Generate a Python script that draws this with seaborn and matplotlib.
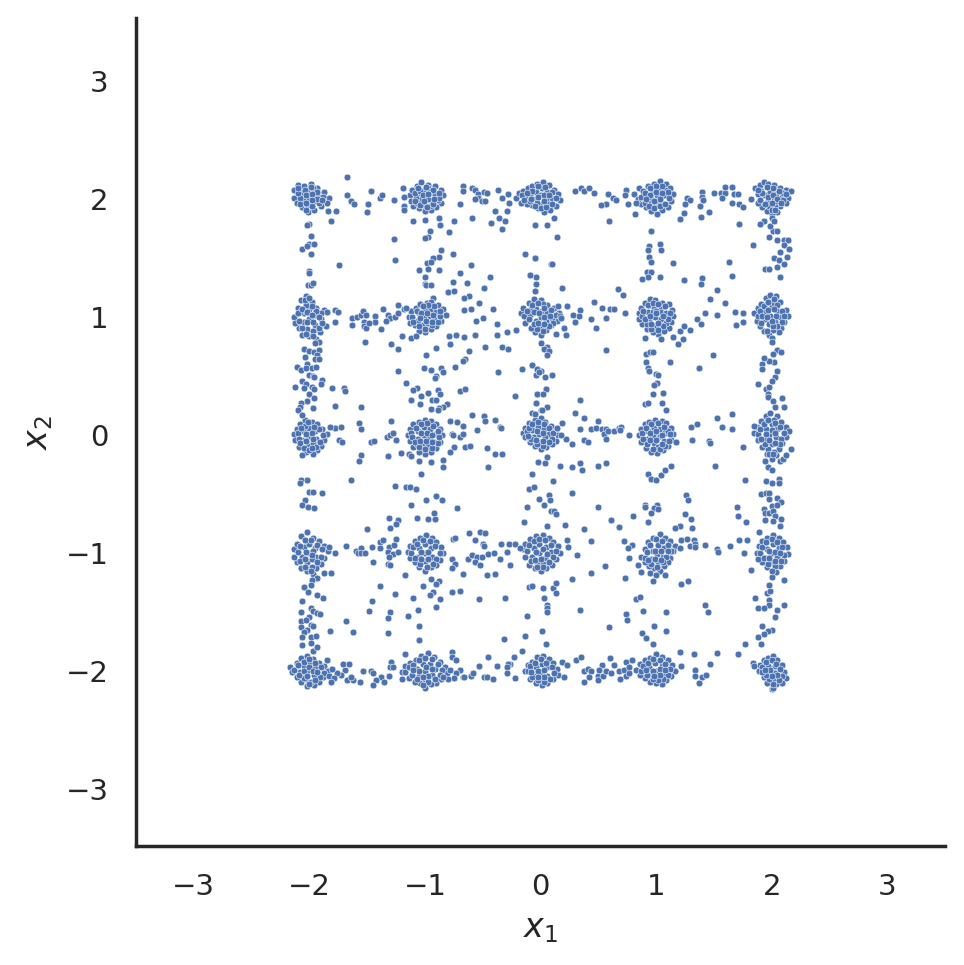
import pandas as pd
import matplotlib.pyplot as plt
import seaborn as sns

# Points, (x1, x2). Dense groups first, one list per row
blobs_top = [
    (-2.13,2.08),(-2.10,2.12),(-2.05,2.11),(-1.99,2.13),(-1.93,2.09),(-1.87,2.06),(-1.83,2.01),(-2.13,2.01),(-2.11,1.97),(-2.06,1.93),
    (-2.01,1.89),(-1.96,1.91),(-1.90,1.94),(-1.85,1.97),(-2.07,2.05),(-2.02,2.07),(-1.96,2.04),(-1.91,2.02),(-2.05,1.99),(-2.00,2.01),
    (-1.95,1.98),(-2.02,1.95),(-1.97,2.09),(-2.08,2.01),
    (-1.13,2.03),(-1.11,2.08),(-1.07,2.11),(-1.03,2.14),(-0.97,2.12),(-0.91,2.11),(-0.86,2.08),(-0.84,2.03),(-0.86,1.97),(-0.90,1.93),
    (-0.95,1.91),(-1.00,1.90),(-1.05,1.92),(-1.10,1.94),(-1.12,1.98),(-1.06,2.05),(-1.01,2.08),(-0.96,2.06),(-0.91,2.03),(-1.04,2.00),
    (-0.99,2.02),(-0.94,1.99),(-1.07,1.97),(-1.01,1.95),(-0.96,1.94),(-0.89,1.99),(-0.97,2.09),(-1.08,2.01),
    (-0.21,2.01),(-0.19,2.05),(-0.15,2.07),(-0.11,2.09),(-0.07,2.11),(-0.03,2.13),(0.02,2.14),(0.07,2.12),(0.12,2.08),(0.15,2.04),
    (0.17,1.99),(0.13,1.94),(0.08,1.91),(0.03,1.89),(-0.02,1.92),(-0.07,1.95),(-0.12,1.96),(-0.17,1.97),(-0.09,2.03),(-0.04,2.06),
    (0.01,2.09),(0.06,2.06),(0.10,2.01),(-0.05,2.00),(0.00,2.03),(0.05,2.00),(0.01,1.96),(-0.03,1.97),(0.07,1.96),(-0.13,2.01),
    (0.81,2.04),(0.85,2.09),(0.89,2.07),(0.93,2.11),(0.98,2.13),(1.03,2.15),(1.09,2.13),(1.12,2.09),(1.15,2.04),(1.13,1.98),
    (1.10,1.93),(1.05,1.91),(1.01,1.87),(0.96,1.90),(0.91,1.93),(0.87,1.96),(0.84,2.00),(0.92,2.03),(0.97,2.07),(1.03,2.09),
    (1.07,2.03),(0.96,2.00),(1.01,2.03),(1.05,1.97),(0.99,1.95),(0.93,1.97),(1.08,2.08),(1.01,1.98),
    (1.82,2.00),(1.86,2.09),(1.90,2.12),(1.93,2.14),(1.97,2.13),(2.02,2.12),(2.07,2.09),(2.12,2.08),(2.17,2.07),(2.14,2.01),
    (2.12,1.97),(2.07,1.94),(2.05,1.89),(2.00,1.87),(1.96,1.90),(1.92,1.93),(1.88,1.97),(1.94,2.03),(1.99,2.06),(2.04,2.04),
    (2.08,2.01),(1.97,1.98),(2.02,2.00),(2.03,1.95),(1.91,2.07),(2.10,2.05),(1.98,1.94),(2.00,1.84),
]
blobs_upper = [
    (-2.13,1.00),(-2.10,1.08),(-2.07,1.14),(-2.03,1.18),(-1.98,1.13),(-1.94,1.08),(-1.87,1.06),(-1.85,1.04),(-1.90,0.98),(-1.86,0.92),
    (-1.91,0.87),(-1.94,0.81),(-2.00,0.84),(-2.06,0.85),(-2.09,0.91),(-2.12,0.95),(-2.05,1.03),(-2.00,1.07),(-1.95,1.02),(-2.05,0.96),
    (-2.00,0.98),(-1.95,0.93),(-2.02,0.90),(-2.03,1.10),(-1.97,0.88),(-2.08,1.04),
    (-1.14,1.00),(-1.12,1.05),(-1.08,1.08),(-1.04,1.11),(-0.98,1.12),(-0.93,1.16),(-0.89,1.10),(-0.84,1.07),(-0.82,1.02),(-0.86,0.97),
    (-0.90,0.92),(-0.95,0.90),(-1.00,0.87),(-1.05,0.88),(-1.09,0.93),(-1.13,0.95),(-1.05,1.03),(-1.00,1.06),(-0.95,1.07),(-0.90,1.04),
    (-1.06,0.97),(-1.01,1.00),(-0.96,1.01),(-0.92,0.98),(-1.02,0.93),(-0.97,0.95),(-0.95,1.13),
    (-0.17,1.03),(-0.15,1.08),(-0.10,1.12),(-0.06,1.15),(0.00,1.14),(0.06,1.10),(0.12,1.08),(0.16,1.03),(0.14,0.97),(0.09,0.93),
    (0.05,0.89),(0.00,0.85),(-0.05,0.87),(-0.08,0.91),(-0.13,0.95),(-0.09,1.02),(-0.04,1.07),(0.01,1.05),(0.06,1.03),(-0.04,0.97),
    (0.00,1.00),(0.05,0.97),(0.00,0.92),(-0.08,1.07),(0.10,0.99),(0.02,1.11),
    (0.85,1.03),(0.87,1.08),(0.90,1.12),(0.95,1.15),(0.99,1.14),(1.05,1.12),(1.11,1.11),(1.14,1.06),(1.15,1.01),(1.13,0.96),
    (1.11,0.91),(1.07,0.88),(1.02,0.86),(0.97,0.87),(0.92,0.90),(0.88,0.94),(0.85,0.98),(0.93,1.04),(0.98,1.08),(1.04,1.07),
    (1.09,1.03),(0.94,0.97),(0.99,1.00),(1.04,0.98),(1.09,0.95),(1.00,0.92),(1.03,1.04),(0.97,1.04),
    (1.85,1.03),(1.88,1.08),(1.91,1.11),(1.95,1.16),(1.99,1.19),(2.04,1.18),(2.07,1.13),(2.12,1.06),(2.14,1.01),(2.11,0.96),
    (2.08,0.91),(2.06,0.87),(2.01,0.89),(1.98,0.85),(1.93,0.88),(1.90,0.92),(1.87,0.97),(1.95,1.04),(2.00,1.09),(2.05,1.05),
    (2.07,1.00),(1.94,0.98),(1.99,1.01),(2.03,0.96),(1.98,0.94),(2.02,1.12),
]
blobs_middle = [
    (-2.13,0.01),(-2.11,0.05),(-2.08,0.09),(-2.04,0.13),(-1.98,0.11),(-1.93,0.09),(-1.89,0.05),(-1.85,0.01),(-1.87,-0.04),(-1.90,-0.09),
    (-1.93,-0.13),(-1.97,-0.16),(-2.03,-0.14),(-2.06,-0.17),(-2.09,-0.10),(-2.12,-0.04),(-2.05,0.03),(-2.00,0.06),(-1.95,0.03),(-2.06,-0.04),
    (-2.00,-0.01),(-1.94,-0.03),(-2.01,-0.09),(-2.04,0.08),(-1.97,-0.07),
    (-1.15,0.00),(-1.13,0.05),(-1.10,0.09),(-1.05,0.11),(-1.00,0.13),(-0.95,0.12),(-0.90,0.09),(-0.87,0.05),(-0.85,0.00),(-0.87,-0.06),
    (-0.90,-0.11),(-0.95,-0.14),(-1.00,-0.16),(-1.05,-0.14),(-1.10,-0.10),(-1.13,-0.05),(-1.06,0.03),(-1.01,0.07),(-0.96,0.05),(-0.91,0.01),
    (-1.06,-0.03),(-1.01,0.00),(-0.96,-0.02),(-0.92,-0.06),(-1.02,-0.07),(-0.97,-0.09),(-1.07,-0.08),
    (-0.15,0.02),(-0.13,0.06),(-0.10,0.10),(-0.05,0.13),(0.00,0.14),(0.04,0.11),(0.09,0.08),(0.13,0.04),(0.15,0.00),(0.13,-0.05),
    (0.10,-0.08),(0.05,-0.10),(0.00,-0.12),(-0.05,-0.09),(-0.09,-0.06),(-0.13,-0.02),(-0.07,0.04),(-0.02,0.07),(0.03,0.05),(0.07,0.01),
    (-0.06,-0.02),(-0.01,0.01),(0.04,-0.02),(0.00,-0.06),
    (0.85,0.00),(0.87,0.05),(0.90,0.09),(0.94,0.11),(0.99,0.13),(1.05,0.12),(1.09,0.10),(1.13,0.06),(1.15,0.01),(1.13,-0.04),
    (1.10,-0.09),(1.06,-0.13),(1.01,-0.15),(0.96,-0.14),(0.91,-0.11),(0.87,-0.06),(0.93,0.03),(0.98,0.06),(1.03,0.05),(1.08,0.02),
    (0.92,-0.03),(0.97,0.00),(1.03,-0.01),(1.07,-0.05),(0.98,-0.07),(1.02,-0.10),(1.10,0.03),
    (1.85,0.02),(1.87,0.07),(1.91,0.12),(1.95,0.16),(1.99,0.19),(2.05,0.16),(2.08,0.11),(2.12,0.07),(2.15,0.03),(2.12,-0.02),
    (2.09,-0.07),(2.06,-0.12),(2.04,-0.17),(2.00,-0.20),(1.96,-0.16),(1.92,-0.10),(1.88,-0.04),(1.95,0.05),(2.00,0.09),(2.05,0.05),
    (1.93,-0.03),(1.98,0.00),(2.04,-0.02),(2.00,-0.08),(1.97,-0.12),(2.02,0.13),
]
blobs_lower = [
    (-2.13,-0.97),(-2.11,-0.92),(-2.07,-0.86),(-2.02,-0.82),(-1.97,-0.87),(-1.92,-0.90),(-1.87,-0.94),(-1.84,-0.98),(-1.87,-1.04),(-1.90,-1.09),
    (-1.94,-1.13),(-1.97,-1.18),(-2.02,-1.15),(-2.07,-1.13),(-2.11,-1.08),(-2.13,-1.03),(-2.05,-0.95),(-2.00,-0.92),(-1.95,-0.96),(-2.06,-1.03),
    (-2.00,-1.00),(-1.94,-1.03),(-2.02,-1.08),(-1.98,-1.05),
    (-1.15,-0.99),(-1.13,-0.94),(-1.09,-0.90),(-1.04,-0.87),(-0.99,-0.85),(-0.94,-0.87),(-0.90,-0.91),(-0.86,-0.95),(-0.84,-1.00),(-0.87,-1.06),
    (-0.90,-1.10),(-0.95,-1.12),(-1.00,-1.15),(-1.05,-1.12),(-1.09,-1.08),(-1.13,-1.04),(-1.05,-0.96),(-1.00,-0.92),(-0.95,-0.96),(-1.06,-1.03),
    (-1.00,-1.00),(-0.94,-1.03),(-1.00,-1.07),
    (-0.15,-0.97),(-0.13,-0.92),(-0.09,-0.88),(-0.04,-0.86),(0.02,-0.85),(0.07,-0.87),(0.11,-0.91),(0.15,-0.94),(0.17,-1.00),(0.13,-1.05),
    (0.10,-1.10),(0.05,-1.13),(0.00,-1.15),(-0.05,-1.13),(-0.10,-1.10),(-0.13,-1.03),(-0.06,-0.96),(-0.01,-0.92),(0.05,-0.95),(0.09,-0.99),
    (-0.07,-1.03),(-0.01,-1.00),(0.04,-1.04),(-0.03,-1.08),(0.02,-1.09),
    (0.87,-1.03),(0.90,-0.97),(0.93,-0.91),(0.97,-0.87),(1.03,-0.84),(1.08,-0.87),(1.12,-0.90),(1.16,-0.94),(1.15,-0.98),(1.12,-1.04),
    (1.10,-1.08),(1.07,-1.11),(1.03,-1.15),(0.98,-1.13),(0.94,-1.11),(0.90,-1.08),(0.97,-0.98),(1.02,-0.93),(1.07,-0.96),(0.96,-1.05),
    (1.01,-1.01),(1.06,-1.03),(1.02,-1.08),
    (1.87,-1.00),(1.89,-0.94),(1.92,-0.90),(1.96,-0.87),(2.01,-0.85),(2.06,-0.87),(2.10,-0.91),(2.13,-0.95),(2.14,-1.01),(2.11,-1.07),
    (2.07,-1.11),(2.04,-1.16),(2.00,-1.20),(1.96,-1.12),(1.92,-1.08),(1.88,-1.05),(1.96,-0.97),(2.01,-0.92),(2.06,-0.96),(1.95,-1.04),
    (2.00,-1.00),(2.05,-1.03),(2.01,-1.08),
]
blobs_bottom = [
    (-2.17,-1.97),(-2.15,-2.01),(-2.11,-1.93),(-2.07,-1.89),(-2.02,-1.87),(-1.97,-1.90),(-1.92,-1.93),(-1.87,-1.96),(-1.84,-2.00),(-1.88,-2.05),
    (-1.92,-2.09),(-1.96,-2.12),(-2.02,-2.13),(-2.07,-2.09),(-2.11,-2.05),(-2.05,-1.96),(-2.00,-1.93),(-1.95,-1.97),(-2.08,-2.01),(-2.02,-2.00),
    (-1.96,-2.03),(-2.03,-2.07),(-1.99,-2.09),
    (-1.20,-2.01),(-1.17,-1.96),(-1.13,-1.93),(-1.08,-1.91),(-1.03,-1.87),(-0.97,-1.85),(-0.92,-1.88),(-0.87,-1.92),(-0.83,-1.97),(-0.81,-2.02),
    (-0.86,-2.07),(-0.90,-2.10),(-0.95,-2.11),(-1.00,-2.14),(-1.04,-2.10),(-1.09,-2.09),(-1.14,-2.06),(-1.07,-1.98),(-1.02,-1.94),(-0.96,-1.94),
    (-0.91,-1.98),(-1.05,-2.04),(-1.00,-2.00),(-0.94,-2.03),(-1.00,-2.07),
    (-0.13,-2.00),(-0.11,-1.95),(-0.07,-1.92),(-0.03,-1.88),(0.02,-1.87),(0.07,-1.90),(0.11,-1.93),(0.14,-1.98),(0.15,-2.03),(0.11,-2.07),
    (0.06,-2.10),(0.01,-2.12),(-0.04,-2.10),(-0.09,-2.07),(-0.04,-1.97),(0.01,-1.94),(0.06,-1.97),(-0.05,-2.04),(0.00,-2.01),(0.06,-2.04),
    (0.83,-1.99),(0.86,-1.94),(0.90,-1.91),(0.95,-1.89),(1.00,-1.86),(1.05,-1.88),(1.10,-1.91),(1.14,-1.95),(1.16,-2.00),(1.13,-2.04),
    (1.09,-2.08),(1.05,-2.11),(1.00,-2.10),(0.95,-2.09),(0.90,-2.06),(0.86,-2.03),(0.94,-1.97),(0.99,-1.93),(1.05,-1.96),(0.95,-2.03),
    (1.00,-2.00),(1.06,-2.03),(1.00,-2.06),
    (1.90,-1.95),(1.93,-1.91),(1.97,-1.89),(2.01,-1.87),(2.05,-1.91),(2.09,-1.95),(2.11,-2.01),(2.12,-2.06),(2.09,-2.10),(2.04,-2.11),
    (2.00,-2.15),(1.96,-2.10),(1.93,-2.05),(1.89,-2.00),(1.97,-1.96),(2.03,-1.96),(1.97,-2.03),(2.03,-2.02),(2.01,-2.07),(2.01,-2.14),
]
# Second pass over the dense groups, where the markers overlap to a solid patch
fill_top = [
    (-2.10,2.05),(-2.08,1.96),(-2.03,1.91),(-1.98,1.94),(-1.92,1.97),(-1.88,2.02),(-1.93,2.06),(-1.99,2.10),(-2.04,2.08),(-2.03,2.03),(-1.98,2.04),(-1.93,2.00),(-2.03,1.97),(-1.98,1.99),(-2.10,2.09),(-1.89,1.99),
    (-1.09,2.05),(-1.09,1.98),(-1.04,1.95),(-0.98,1.93),(-0.93,1.96),(-0.88,2.01),(-0.93,2.08),(-0.99,2.10),(-1.04,2.07),(-1.02,2.03),(-0.97,2.00),(-0.97,2.04),(-1.01,1.98),(-1.06,2.09),(-0.88,2.05),(-0.92,2.00),
    (-0.16,2.03),(-0.14,1.99),(-0.09,1.98),(-0.05,1.94),(0.00,1.92),(0.05,1.93),(0.10,1.96),(0.13,2.01),(0.10,2.06),(0.04,2.10),(-0.02,2.11),(-0.07,2.07),(-0.02,2.02),(0.03,2.03),(0.03,1.98),(-0.08,2.00),(0.07,2.03),(-0.12,2.05),
    (0.87,2.02),(0.90,1.97),(0.94,1.94),(0.98,1.92),(1.03,1.94),(1.08,1.96),(1.11,2.01),(1.10,2.06),(1.05,2.11),(1.00,2.11),(0.95,2.09),(0.90,2.05),(0.95,2.03),(1.00,2.06),(1.05,2.05),(1.03,2.00),(0.98,1.98),(0.91,2.00),
    (1.88,2.04),(1.90,1.99),(1.94,1.96),(2.00,1.91),(2.04,1.98),(2.10,1.99),(2.12,2.04),(2.06,2.07),(2.01,2.09),(1.96,2.10),(1.92,2.05),(1.97,2.02),(2.01,2.03),(2.05,2.00),(2.00,1.97),(1.88,2.08),(2.03,1.91),(2.08,1.97),
]
fill_upper = [
    (-2.10,1.03),(-2.09,0.97),(-2.06,0.91),(-2.03,0.86),(-1.97,0.84),(-1.92,0.91),(-1.89,0.95),(-1.90,1.03),(-1.94,1.05),(-1.98,1.09),(-2.04,1.14),(-2.06,1.07),(-2.02,1.04),(-1.98,1.02),(-2.02,0.96),(-1.97,0.96),(-2.00,1.16),(-1.92,1.00),
    (-1.11,1.00),(-1.10,0.96),(-1.05,0.92),(-1.00,0.90),(-0.94,0.93),(-0.89,0.96),(-0.87,1.01),(-0.87,1.05),(-0.92,1.09),(-0.97,1.10),(-1.02,1.09),(-1.07,1.05),(-1.03,1.03),(-0.98,1.03),(-0.93,1.02),(-1.04,0.99),(-0.99,0.97),(-0.94,0.96),
    (-0.14,1.01),(-0.12,1.05),(-0.07,1.10),(-0.02,1.12),(0.03,1.08),(0.09,1.06),(0.13,1.02),(0.11,0.95),(0.07,0.92),(0.02,0.88),(-0.03,0.90),(-0.06,0.94),(-0.10,0.98),(-0.06,1.04),(-0.01,1.03),(0.03,1.00),(0.08,1.01),(-0.02,0.95),(0.03,0.94),
    (0.88,1.01),(0.89,1.05),(0.93,1.10),(0.97,1.12),(1.02,1.11),(1.08,1.09),(1.12,1.03),(1.10,0.98),(1.06,0.92),(1.02,0.89),(0.96,0.90),(0.92,0.94),(0.90,0.98),(0.95,1.01),(1.00,1.05),(1.06,1.01),(1.02,0.95),(0.96,0.94),(1.00,1.03),
    (1.88,1.01),(1.90,1.05),(1.93,1.09),(1.97,1.13),(2.02,1.15),(2.05,1.10),(2.09,1.05),(2.11,1.01),(2.09,0.96),(2.05,0.92),(2.01,0.92),(1.96,0.88),(1.91,0.95),(1.92,1.01),(1.97,1.06),(2.02,1.07),(2.04,1.01),(2.00,0.97),(1.96,1.00),
]
fill_middle = [
    (-2.10,0.02),(-2.09,-0.03),(-2.08,-0.07),(-2.05,-0.11),(-2.00,-0.13),(-1.94,-0.10),(-1.91,-0.06),(-1.88,0.00),(-1.92,0.05),(-1.96,0.07),(-2.01,0.11),(-2.07,0.06),(-2.03,0.01),(-1.98,0.02),(-2.03,-0.05),(-1.97,-0.03),(-1.98,-0.11),
    (-1.12,0.02),(-1.11,-0.02),(-1.09,-0.06),(-1.05,-0.10),(-1.00,-0.12),(-0.94,-0.11),(-0.89,-0.07),(-0.88,-0.02),(-0.89,0.03),(-0.93,0.08),(-0.98,0.10),(-1.03,0.09),(-1.08,0.06),(-1.03,0.02),(-0.98,0.02),(-0.94,0.00),(-1.04,-0.05),(-0.99,-0.05),(-0.94,-0.06),
    (-0.12,0.03),(-0.10,0.06),(-0.07,0.09),(-0.02,0.11),(0.03,0.09),(0.07,0.06),(0.11,0.02),(0.10,-0.03),(0.07,-0.06),(0.02,-0.09),(-0.03,-0.08),(-0.08,-0.03),(-0.03,0.03),(0.02,0.02),(-0.04,-0.04),(0.02,-0.05),(-0.11,-0.01),
    (0.88,0.02),(0.89,-0.03),(0.92,-0.08),(0.97,-0.12),(1.03,-0.12),(1.08,-0.09),(1.11,-0.05),(1.12,0.01),(1.07,0.07),(1.02,0.10),(0.96,0.09),(0.91,0.06),(0.95,0.02),(1.00,0.03),(1.05,0.00),(0.95,-0.04),(1.00,-0.04),(1.05,-0.08),
    (1.88,0.01),(1.90,0.05),(1.93,0.09),(1.97,0.13),(2.03,0.10),(2.07,0.07),(2.11,0.02),(2.08,-0.03),(2.07,-0.08),(2.02,-0.14),(1.98,-0.16),(1.94,-0.08),(1.91,-0.03),(1.95,0.01),(2.00,0.04),(2.03,0.02),(1.98,-0.04),(2.03,-0.07),(2.01,-0.16),
]
fill_lower = [
    (-2.10,-0.99),(-2.08,-0.94),(-2.04,-0.89),(-1.99,-0.89),(-1.93,-0.93),(-1.89,-0.97),(-1.90,-1.03),(-1.93,-1.08),(-1.98,-1.12),(-2.04,-1.12),(-2.08,-1.07),(-2.03,-0.99),(-1.97,-0.98),(-2.04,-1.05),(-1.98,-1.02),(-1.99,-1.15),
    (-1.12,-1.00),(-1.10,-0.95),(-1.07,-0.92),(-1.02,-0.89),(-0.96,-0.90),(-0.91,-0.94),(-0.87,-1.00),(-0.90,-1.05),(-0.93,-1.09),(-0.98,-1.12),(-1.04,-1.09),(-1.09,-1.04),(-1.03,-0.99),(-0.97,-0.99),(-1.03,-1.05),(-0.97,-1.05),
    (-0.12,-0.98),(-0.10,-0.93),(-0.06,-0.90),(-0.01,-0.88),(0.04,-0.89),(0.09,-0.93),(0.13,-0.98),(0.11,-1.03),(0.07,-1.08),(0.02,-1.12),(-0.03,-1.12),(-0.08,-1.07),(-0.04,-0.99),(0.02,-0.97),(0.06,-1.01),(-0.05,-1.06),(0.00,-1.05),
    (0.90,-1.04),(0.92,-0.99),(0.95,-0.93),(1.00,-0.88),(1.05,-0.90),(1.10,-0.93),(1.13,-0.98),(1.09,-1.03),(1.06,-1.08),(1.01,-1.12),(0.96,-1.09),(0.93,-1.06),(0.99,-0.98),(1.04,-0.98),(0.99,-1.05),(1.04,-1.06),(1.10,-0.98),
    (1.90,-1.00),(1.92,-0.95),(1.95,-0.91),(2.00,-0.88),(2.05,-0.91),(2.09,-0.95),(2.11,-1.02),(2.08,-1.07),(2.03,-1.11),(2.00,-1.15),(1.97,-1.09),(1.93,-1.04),(1.98,-0.98),(2.03,-0.99),(1.98,-1.04),(2.03,-1.07),(2.07,-1.00),
]
fill_bottom = [
    (-2.13,-1.99),(-2.10,-1.95),(-2.05,-1.92),(-2.00,-1.90),(-1.95,-1.93),(-1.90,-1.97),(-1.87,-2.02),(-1.91,-2.05),(-1.95,-2.08),(-2.00,-2.11),(-2.05,-2.06),(-2.09,-2.03),(-2.05,-2.00),(-2.00,-1.97),(-1.97,-2.00),(-2.02,-2.04),(-1.93,-2.01),
    (-1.17,-2.01),(-1.14,-1.97),(-1.10,-1.95),(-1.05,-1.91),(-1.00,-1.89),(-0.94,-1.90),(-0.89,-1.94),(-0.85,-1.99),(-0.87,-2.03),(-0.91,-2.07),(-0.97,-2.09),(-1.02,-2.12),(-1.07,-2.07),(-1.11,-2.03),(-1.05,-2.00),(-0.99,-1.97),(-0.94,-1.98),(-0.97,-2.04),(-1.02,-2.05),(-1.10,-1.99),
    (-0.11,-2.00),(-0.09,-1.96),(-0.05,-1.93),(0.00,-1.90),(0.05,-1.93),(0.10,-1.97),(0.12,-2.02),(0.08,-2.07),(0.03,-2.09),(-0.02,-2.08),(-0.07,-2.05),(-0.08,-2.01),(-0.02,-2.00),(0.03,-1.99),(0.03,-2.05),(-0.02,-2.05),
    (0.87,-2.00),(0.89,-1.96),(0.93,-1.93),(0.97,-1.90),(1.03,-1.91),(1.08,-1.94),(1.12,-1.98),(1.10,-2.03),(1.06,-2.07),(1.02,-2.08),(0.97,-2.07),(0.92,-2.03),(0.91,-1.99),(0.97,-2.00),(1.03,-1.98),(1.03,-2.03),(0.98,-2.04),(1.08,-1.99),
    (1.92,-1.97),(1.95,-1.92),(2.00,-1.91),(2.04,-1.94),(2.07,-1.98),(2.09,-2.04),(2.06,-2.08),(2.01,-2.11),(1.98,-2.07),(1.95,-2.03),(1.92,-2.01),(1.99,-1.99),(2.05,-2.03),(2.00,-2.04),(1.94,-1.99),
]

# Loose points between the groups, one list per quadrant of the picture
upper_left = [
    (-1.67,2.19),(-1.47,2.07),(-1.67,2.03),(-1.64,1.98),(-1.61,1.96),(-1.49,1.96),(-1.50,1.89),(-1.39,2.01),(-1.37,2.03),(-1.27,1.99),
    (-1.81,1.81),(-1.77,1.90),(-1.84,1.90),(-2.00,1.79),(-2.02,1.78),(-1.99,1.69),(-2.00,1.62),(-1.96,1.62),(-2.06,1.58),(-2.02,1.60),
    (-1.99,1.53),(-1.74,1.44),(-1.27,1.66),(-1.26,1.48),(-2.00,1.39),(-2.00,1.37),(-2.01,1.27),(-1.99,1.27),(-1.97,1.29),(-1.19,2.09),
    (-1.18,2.02),(-1.18,1.94),(-1.18,1.91),(-1.10,1.81),(-1.00,1.82),(-0.88,1.84),(-0.87,1.78),(-0.75,1.81),(-0.96,1.73),(-0.97,1.68),
    (-1.00,1.67),(-0.79,1.72),(-0.70,1.96),(-0.67,2.11),(-0.67,2.07),(-0.59,2.09),(-0.57,2.08),(-0.59,1.84),(-0.54,2.04),(-0.54,2.01),
    (-0.49,2.06),(-0.46,2.05),(-0.57,2.00),(-0.51,1.98),(-0.48,1.98),(-0.37,2.08),(-0.33,2.01),(-0.28,2.04),(-0.27,1.97),(-0.39,1.90),
    (-0.29,1.90),(-0.36,1.84),(-0.43,1.80),(-0.31,1.81),(-0.33,1.75),(-0.05,1.78),(-0.86,1.57),(-0.76,1.53),(-0.88,1.51),(-0.93,1.50),
    (-0.98,1.46),(-0.95,1.47),(-1.05,1.40),(-0.97,1.41),(-0.88,1.40),(-0.60,1.44),(-0.70,1.37),(-1.00,1.34),(-0.44,1.34),(-0.13,1.53),
    (-0.05,1.50),(-0.09,1.36),(-0.04,1.34),(0.09,1.45),(-1.00,1.28),(-0.99,1.27),(-0.95,1.27),(-0.76,1.30),(-0.64,1.29),(-0.49,1.25),
    (-0.80,1.21),(-0.75,1.22),(-0.62,1.18),(-0.66,1.16),(-0.53,1.12),(-0.41,1.07),(-0.66,1.06),(-0.60,1.07),(-0.50,0.99),(-0.56,0.97),
    (-0.38,0.94),(-0.38,0.85),(-0.29,0.87),(-0.21,0.89),(-0.57,0.85),(-0.73,0.85),(-0.79,0.84),(-0.66,0.83),(-0.78,0.77),(-0.48,0.75),
    (-0.33,0.75),(-0.28,0.73),(-0.90,0.74),(-0.99,0.68),(-0.62,0.71),(-0.65,0.64),(-0.67,0.63),(-0.74,0.58),(-1.01,0.57),(-0.95,0.55),
    (-0.86,0.57),(-0.84,0.53),(-0.90,0.50),(-0.91,0.48),(-0.37,0.53),(-0.16,0.56),(-0.07,0.59),(-0.03,0.56),(0.00,0.54),(-0.04,0.51),
    (0.04,0.49),(-1.23,0.54),(-1.16,0.44),(-1.07,0.40),(-1.10,0.38),(-1.03,0.33),(-0.97,0.36),(-0.89,0.38),(-0.87,0.35),(-0.70,0.37),
    (-0.65,0.39),(-1.12,0.30),(-0.94,0.30),(-0.90,0.30),(-1.04,0.26),(-0.22,0.33),(-0.03,0.35),(0.05,0.39),(-0.04,0.27),(0.00,0.21),
    (-0.07,0.19),(-0.81,0.26),(-0.84,0.24),(-0.88,0.23),(-0.89,0.21),(-0.95,0.22),(-0.59,0.17),(-0.49,0.16),(-0.48,0.12),(-0.39,0.13),
    (-0.78,0.12),(-0.72,0.11),(-0.67,0.08),(-0.55,0.04),(-0.35,0.07),(-0.34,0.06),(-0.77,0.01),(-0.76,0.00),(-0.70,-0.02),(-0.67,0.01),
    (-0.75,-0.10),(-0.65,-0.10),(-0.61,-0.09),(-2.05,0.73),(-1.92,0.79),(-1.95,0.78),(-2.00,0.71),(-1.96,0.70),(-1.92,0.72),(-2.04,0.66),
    (-1.93,0.68),(-1.95,0.64),(-1.92,0.64),(-2.11,0.58),(-2.02,0.60),(-2.07,0.55),(-2.03,0.57),(-1.98,0.57),(-1.94,0.58),(-2.00,0.51),
    (-1.97,0.50),(-1.89,0.47),(-1.96,0.49),(-2.06,0.46),(-2.12,0.41),(-2.03,0.43),(-2.05,0.40),(-1.98,0.41),(-1.96,0.39),(-1.90,0.43),
    (-2.00,0.35),(-1.96,0.31),(-2.02,0.29),(-2.07,0.27),(-2.08,0.24),(-2.10,0.21),(-1.97,0.23),(-2.06,0.17),(-1.80,0.40),(-1.70,0.40),
    (-1.69,0.37),(-1.78,0.25),(-1.55,0.24),(-1.57,0.10),(-1.55,0.05),(-1.29,0.12),(-1.78,0.06),(-1.73,0.07),(-1.82,0.07),(-1.74,-0.04),
    (-1.72,-0.06),(-1.47,-0.06),(-1.44,-0.05),(-1.33,-0.02),(-1.30,0.00),(-1.28,0.02),(-1.25,-0.04),(-1.63,0.99),(-1.63,0.93),(-1.59,1.00),
    (-1.55,1.02),(-1.54,1.05),(-1.51,1.02),(-1.43,1.01),(-1.43,0.96),(-1.53,0.96),(-1.53,0.92),(-1.51,0.91),(-1.48,0.95),(-1.38,0.90),
    (-1.36,1.07),(-1.32,1.02),(-1.30,0.99),(-1.34,0.97),(-1.26,1.00),(-1.23,1.03),(-1.23,1.10),(-1.18,1.07),(-1.16,1.08),(-1.20,0.84),
    (-1.12,0.82),(-1.08,0.84),(-1.29,0.77),(-1.23,0.73),(-1.52,0.79),(-1.78,1.06),(-1.75,1.04),(-1.78,0.96),
]
upper_right = [
    (0.30,2.07),(0.35,2.09),(0.38,2.07),(0.42,2.09),(0.46,2.05),(0.58,2.04),(0.63,2.01),(0.65,1.99),(0.57,1.96),(0.52,1.95),
    (0.59,1.81),(0.74,2.08),(0.73,2.03),(0.76,1.96),(0.82,1.87),(0.83,1.97),(0.96,1.73),(1.03,1.62),(1.04,1.57),(0.94,1.60),
    (0.93,1.57),(0.94,1.51),(0.96,1.47),(1.15,1.46),(0.92,1.38),(0.96,1.38),(0.93,1.34),(0.88,1.32),(1.03,1.34),(1.24,1.31),
    (1.40,1.33),(1.39,1.28),(1.27,2.01),(1.29,1.99),(1.25,1.96),(1.24,1.88),(1.21,1.83),(1.38,1.94),(1.39,1.85),(1.46,1.89),
    (1.40,2.06),(1.40,2.02),(1.41,1.99),(1.50,2.05),(1.56,2.05),(1.60,2.05),(1.60,2.10),(1.66,2.10),(1.57,2.01),(1.67,2.04),
    (1.71,2.04),(1.66,1.97),(1.72,1.96),(1.75,1.93),(1.72,1.79),(1.84,1.61),(1.63,1.47),(1.66,1.35),(1.94,1.41),(1.98,1.41),
    (2.05,1.42),(2.07,1.34),(2.02,1.50),(2.06,1.48),(2.11,1.45),(2.13,1.51),(2.07,1.55),(2.05,1.65),(2.11,1.65),(2.14,1.65),
    (2.11,1.61),(2.15,1.58),(1.98,1.68),(2.01,1.73),(2.05,1.73),(1.99,1.77),(2.02,1.81),(1.93,1.81),(1.90,1.79),(0.06,1.78),
    (0.14,1.68),(0.12,1.84),(-0.05,1.50),(0.10,1.45),(-0.09,1.36),(-0.04,1.28),(-0.05,1.22),(0.19,1.25),(0.67,1.24),(0.71,1.19),
    (0.46,1.13),(0.53,1.08),(0.60,1.07),(0.64,1.07),(0.57,0.99),(0.73,1.03),(0.48,0.91),(0.44,0.98),(0.34,1.06),(0.33,1.01),
    (0.28,1.02),(0.30,0.96),(0.23,1.09),(0.15,1.09),(0.17,1.01),(0.18,0.99),(0.20,0.91),(0.22,0.85),(0.13,0.86),(0.00,0.78),
    (0.06,0.75),(0.03,0.73),(0.07,0.71),(0.06,0.68),(0.57,0.72),(-0.07,0.59),(-0.03,0.56),(-0.01,0.53),(0.10,0.51),(0.05,0.39),
    (-0.03,0.35),(0.02,0.35),(-0.04,0.27),(0.06,0.24),(0.01,0.21),(-0.05,0.18),(0.34,0.30),(0.30,0.19),(0.38,0.14),(0.50,0.12),
    (0.34,0.05),(0.44,0.05),(0.48,0.06),(0.53,0.05),(0.57,0.05),(0.55,0.01),(0.58,0.03),(0.64,0.03),(0.68,0.06),(0.70,0.07),
    (0.69,0.04),(0.77,0.00),(0.57,-0.03),(0.38,-0.04),(0.41,-0.06),(0.27,-0.08),(0.22,-0.03),(0.18,0.00),(0.19,0.10),(0.14,0.06),
    (1.06,0.36),(1.05,0.27),(0.97,0.35),(0.90,0.26),(0.93,0.27),(1.09,0.21),(0.91,0.69),(0.95,0.70),(0.97,0.70),(0.91,0.62),
    (0.93,0.57),(0.94,0.54),(1.00,0.52),(1.02,0.51),(1.01,0.44),(0.98,0.42),(1.12,0.62),(1.37,0.57),(1.49,0.68),(0.90,0.82),
    (1.04,0.81),(1.15,0.83),(1.23,0.81),(1.19,0.77),(1.21,0.88),(1.24,0.92),(1.29,0.89),(1.35,0.98),(1.39,0.94),(1.42,1.03),
    (1.53,1.02),(1.47,1.15),(1.53,1.23),(1.60,1.12),(1.68,1.04),(1.75,1.03),(1.69,0.93),(1.75,0.96),(1.88,0.43),(1.95,0.39),
    (1.98,0.41),(1.97,0.35),(1.97,0.32),(2.03,0.49),(2.00,0.46),(2.05,0.54),(2.02,0.62),(1.98,0.63),(1.93,0.65),(1.92,0.60),
    (1.92,0.56),(2.05,0.72),(2.08,0.70),(2.01,0.69),(2.00,0.82),(2.00,0.79),(2.01,0.29),(2.03,0.24),(2.09,0.31),(2.11,0.24),
    (1.53,0.14),(1.66,0.18),(1.57,0.07),(1.66,0.05),(1.30,0.07),(1.35,0.09),(1.85,0.08),(1.31,-0.04),(1.46,-0.05),(1.47,-0.07),
    (1.75,-0.10),(2.17,-0.12),(1.17,-0.06),
]
lower_left = [
    (-1.32,-0.18),(-1.55,-0.17),(-1.57,-0.22),(-1.21,-0.15),(-1.14,-0.16),(-1.12,-0.18),(-1.05,-0.22),(-0.95,-0.23),(-0.84,-0.21),(-0.84,-0.27),
    (-1.03,-0.33),(-0.78,-0.14),(-0.46,-0.11),(-0.39,-0.16),(-0.33,-0.16),(-0.45,-0.27),(-1.64,-0.38),(-1.26,-0.43),(-1.16,-0.44),(-1.13,-0.44),
    (-1.08,-0.46),(-2.02,-0.38),(-2.07,-0.38),(-2.08,-0.41),(-2.00,-0.48),(-1.97,-0.48),(-1.89,-0.49),(-2.04,-0.55),(-2.06,-0.59),(-2.01,-0.61),
    (-1.96,-0.62),(-0.99,-0.55),(-0.90,-0.52),(-0.85,-0.55),(-1.12,-0.59),(-0.72,-0.62),(-0.10,-0.46),(-0.12,-0.61),(-1.31,-0.70),(-1.23,-0.72),
    (-1.25,-0.75),(-1.30,-0.79),(-1.07,-0.70),(-0.97,-0.71),(-0.91,-0.71),(-0.92,-0.66),(-1.50,-0.80),(-0.14,-0.74),(-0.62,-0.83),(-0.52,-0.82),
    (-0.48,-0.83),(-0.57,-0.89),(-0.50,-0.92),(-0.49,-0.94),(-0.76,-0.88),(-0.74,-0.87),(-0.34,-0.92),(-0.27,-0.92),(-0.22,-0.92),(-0.18,-0.96),
    (-0.29,-0.99),(-0.35,-1.05),(-0.26,-1.10),(-0.45,-1.01),(-0.40,-1.00),(-0.63,-1.05),(-0.59,-1.02),(-0.55,-1.03),(-0.51,-1.03),(-0.57,-1.08),
    (-0.52,-1.10),(-0.77,-1.05),(-0.74,-1.09),(-0.77,-1.13),(-0.67,-1.18),(-0.46,-1.19),(-0.39,-1.18),(-1.68,-0.94),(-1.60,-0.98),(-1.58,-1.00),
    (-1.55,-0.96),(-1.55,-1.00),(-1.52,-1.00),(-1.46,-0.95),(-1.39,-0.91),(-1.36,-0.89),(-1.39,-0.96),(-1.45,-1.08),(-1.32,-1.09),(-1.30,-1.10),
    (-1.31,-0.95),(-1.27,-0.93),(-1.25,-0.88),(-1.32,-0.99),(-1.28,-1.01),(-1.31,-1.03),(-1.23,-0.99),(-1.78,-1.00),(-1.83,-0.95),(-1.87,-1.17),
    (-1.81,-1.17),(-1.93,-1.21),(-1.98,-1.23),(-1.99,-1.27),(-2.05,-1.29),(-2.01,-1.33),(-1.93,-1.36),(-1.88,-1.38),(-2.06,-1.41),(-1.17,-1.19),
    (-0.95,-1.22),(-0.88,-1.24),(-0.90,-1.26),(-1.02,-1.28),(-0.93,-1.33),(-0.96,-1.36),(-0.77,-1.33),(-0.70,-1.32),(-0.87,-1.39),(-0.90,-1.46),
    (-1.39,-1.28),(-1.26,-1.35),(-1.10,-1.38),(-1.46,-1.41),(-1.48,-1.49),(-1.30,-1.50),(-1.32,-1.55),(-1.15,-1.53),(-1.06,-1.48),(-1.68,-1.58),
    (-1.62,-1.67),(-1.82,-1.66),(-1.32,-1.68),(-1.05,-1.62),(-1.05,-1.74),(-1.99,-1.47),(-1.97,-1.49),(-2.07,-1.50),(-2.00,-1.54),(-1.93,-1.51),
    (-1.91,-1.52),(-2.07,-1.58),(-2.03,-1.57),(-2.07,-1.63),(-1.99,-1.61),(-1.97,-1.62),(-2.02,-1.65),(-2.05,-1.67),(-2.06,-1.71),(-1.99,-1.71),
    (-1.94,-1.70),(-1.99,-1.76),(-2.06,-1.78),(-1.97,-1.83),(-1.93,-1.80),(-0.53,-1.39),(-0.31,-1.38),(-0.12,-1.53),(-0.07,-1.28),(-0.10,-1.29),
    (-0.13,-1.70),(-0.32,-1.73),(-0.45,-1.88),(-0.38,-1.96),(-0.53,-1.96),(-0.26,-1.94),(-0.23,-1.88),(-0.16,-1.83),(-0.28,-1.94),(-0.29,-1.97),
    (-0.29,-2.02),(-0.22,-2.06),(-0.49,-2.05),(-0.46,-2.05),(-0.41,-2.07),(-0.60,-2.04),(-0.58,-2.02),(-0.67,-2.05),(-0.66,-2.05),(-0.70,-1.99),
    (-0.73,-2.02),(-0.77,-1.84),(-0.77,-1.88),(-0.73,-1.91),(-0.78,-1.99),(-0.75,-2.06),(-0.80,-2.07),(-0.84,-2.05),(-1.17,-1.86),(-1.29,-1.92),
    (-1.30,-1.97),(-1.28,-1.97),(-1.20,-2.07),(-1.31,-2.04),(-1.38,-2.05),(-1.42,-2.08),(-1.35,-2.09),(-1.45,-2.12),(-1.54,-2.00),(-1.47,-2.00),
    (-1.45,-2.02),(-1.56,-2.09),(-1.62,-2.08),(-1.67,-2.08),(-1.64,-2.05),(-1.69,-1.99),(-1.71,-1.94),(-1.66,-1.94),(-1.73,-2.03),(-1.76,-2.02),
    (-1.80,-1.98),(-1.83,-2.04),(-1.79,-2.06),(-1.81,-2.09),(-1.85,-1.91),
]
lower_right = [
    (-0.02,-0.23),(0.04,-0.24),(0.06,-0.19),(0.17,-0.26),(0.27,-0.27),(0.34,-0.24),(0.36,-0.30),(0.50,-0.26),(0.57,-0.24),(-0.07,-0.33),
    (-0.06,-0.44),(0.11,-0.39),(0.27,-0.49),(0.50,-0.61),(-0.01,-0.54),(0.07,-0.51),(0.08,-0.55),(0.03,-0.59),(0.09,-0.64),(0.12,-0.64),
    (0.13,-0.67),(0.61,-0.72),(0.68,-0.78),(0.80,-0.69),(0.93,-0.74),(0.06,-0.77),(0.21,-0.76),(0.38,-0.80),(0.23,-0.89),(0.24,-0.95),
    (0.44,-0.90),(0.32,-1.02),(0.56,-1.11),(0.44,-1.17),(0.27,-1.22),(0.73,-1.21),(0.90,-0.59),(0.90,-0.61),(1.01,-0.59),(0.98,-0.62),
    (1.02,-0.63),(0.96,-0.66),(0.93,-0.33),(0.96,-0.37),(1.00,-0.38),(1.04,-0.34),(1.08,-0.30),(1.13,-0.26),(1.26,-0.51),(1.28,-0.55),
    (1.25,-0.67),(1.30,-0.71),(1.21,-0.77),(1.16,-0.79),(1.31,-0.79),(1.51,-0.26),(1.77,-0.38),(1.70,-0.61),(1.71,-0.69),(1.78,-0.74),
    (1.22,-0.89),(1.27,-0.88),(1.33,-0.89),(1.29,-0.94),(1.34,-0.92),(1.34,-0.95),(1.21,-0.96),(1.42,-0.93),(1.53,-0.97),(1.54,-0.99),
    (1.64,-0.94),(1.72,-0.89),(1.79,-0.89),(1.76,-1.00),(1.82,-1.14),(0.72,-0.90),(0.79,-0.93),(0.76,-0.96),(0.77,-1.04),(0.84,-1.10),
    (0.87,-1.16),(0.95,-1.17),(1.00,-1.19),(1.08,-1.19),(0.97,-1.24),(1.22,-1.26),(1.28,-1.24),(-0.07,-1.28),(0.02,-1.30),(0.11,-1.30),
    (0.13,-1.25),(0.13,-1.34),(0.03,-1.38),(0.06,-1.44),(0.06,-1.47),(0.06,-1.50),(0.34,-1.48),(0.83,-1.39),(0.86,-1.37),(0.89,-1.49),
    (0.74,-1.52),(0.75,-1.57),(1.09,-1.50),(1.42,-1.44),(1.45,-1.50),(0.01,-1.66),(0.05,-1.77),(0.59,-1.63),(0.98,-1.62),(1.09,-1.66),
    (0.88,-1.68),(0.91,-1.72),(0.97,-1.77),(1.92,-1.62),(2.00,-1.65),(1.97,-1.66),(1.93,-1.69),(1.88,-1.71),(1.91,-1.77),(1.77,-1.77),
    (1.86,-1.38),(1.96,-1.34),(1.99,-1.32),(1.98,-1.27),(1.98,-1.40),(1.98,-1.44),(1.88,-1.47),(1.93,-1.47),(2.05,-1.48),(2.11,-1.44),
    (2.03,-1.54),(2.11,-1.23),(1.91,-0.50),(1.95,-0.49),(1.98,-0.49),(1.98,-0.54),(2.05,-0.53),(2.08,-0.57),(2.00,-0.60),(2.05,-0.59),
    (1.95,-0.39),(2.00,-0.41),(2.06,-0.37),(2.06,-0.41),(1.97,-0.27),(2.00,-0.30),(2.07,-0.22),(2.10,-0.20),(2.12,-0.17),(1.94,-0.22),
    (1.93,-0.63),(1.94,-0.66),(1.98,-0.66),(2.01,-0.64),(2.03,-0.69),(2.08,-0.71),(1.94,-0.72),(2.01,-0.73),(2.07,-0.77),(1.89,-0.82),
    (0.19,-1.92),(0.23,-1.95),(0.31,-1.91),(0.35,-1.88),(0.20,-2.05),(0.60,-1.89),(0.38,-2.00),(0.41,-1.98),(0.44,-2.00),(0.42,-2.05),
    (0.38,-2.09),(0.50,-2.04),(0.50,-2.08),(0.54,-2.04),(0.53,-1.95),(0.51,-1.99),(0.57,-2.00),(0.61,-2.02),(0.64,-1.95),(0.68,-2.00),
    (0.69,-2.07),(0.74,-1.92),(0.72,-1.99),(0.74,-2.04),(0.77,-2.02),(0.77,-1.97),(0.79,-1.91),(1.21,-1.84),(1.33,-1.86),(1.22,-1.96),
    (1.53,-1.85),(1.71,-1.86),(1.47,-1.94),(1.34,-1.99),(1.34,-2.04),(1.40,-2.05),(1.43,-2.03),(1.37,-2.10),(1.84,-1.93),(1.85,-1.96),
]
tick_vals = [-3, -2, -1, 0, 1, 2, 3]

sns.set_theme(style='white', context='notebook')

points = (blobs_top + blobs_upper + blobs_middle + blobs_lower + blobs_bottom
          + fill_top + fill_upper + fill_middle + fill_lower + fill_bottom
          + upper_left + upper_right + lower_left + lower_right)
df = pd.DataFrame(points, columns=['x1', 'x2'])

fig = plt.figure(figsize=(4.82, 4.825), dpi=200)
ax = fig.add_axes([136 / 964, 1 - 846 / 965, 809 / 964, 828 / 965])
sns.scatterplot(data=df, x='x1', y='x2', s=6, color='#4c72b0', ax=ax)
ax.set_xlim(-3.5, 3.5)
ax.set_ylim(-3.483, 3.534)
ax.set_xticks(tick_vals)
ax.set_yticks(tick_vals)
ax.tick_params(labelsize=10.5, pad=3.8)
ax.set_xlabel('$x_1$', fontsize=12)
ax.set_ylabel('$x_2$', fontsize=12)
sns.despine()
fig.savefig('out.png', dpi=200)
